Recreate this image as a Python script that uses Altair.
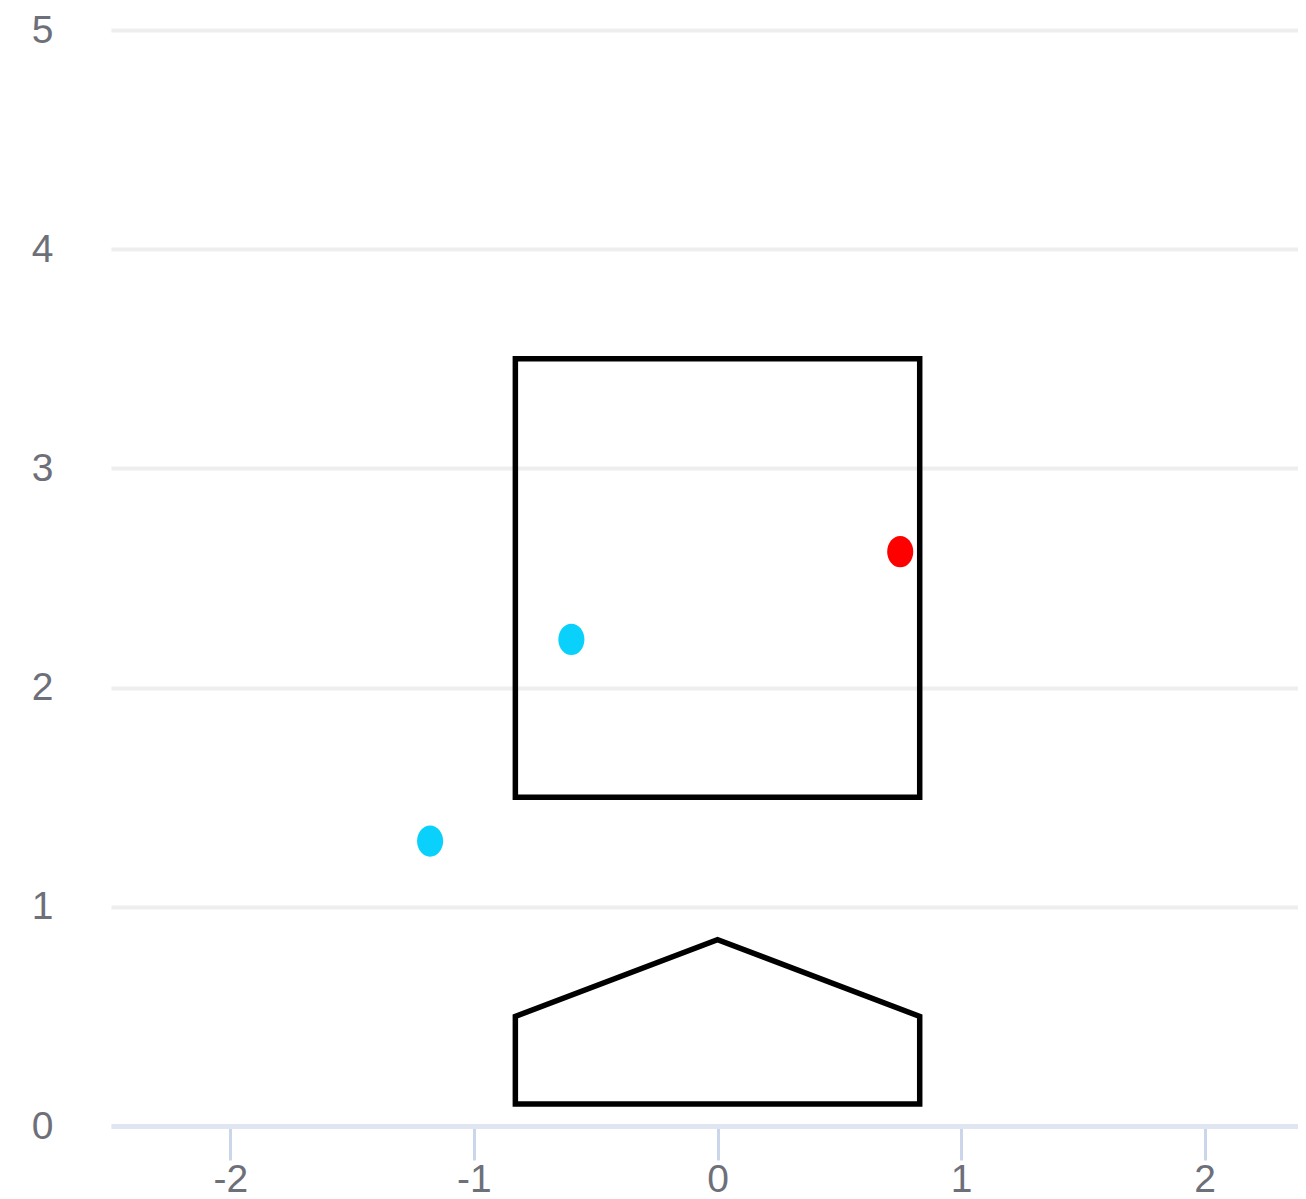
import altair as alt
import pandas as pd

# strike zone rectangle
zone_x = [-0.83]
zone_x2 = [0.83]
zone_y = [1.5]
zone_y2 = [3.5]

# home plate outline (closed)
plate_x = [-0.83, -0.83, 0.0, 0.83, 0.83, -0.83]
plate_y = [0.1, 0.5, 0.85, 0.5, 0.1, 0.1]

# pitches
pitch_x = [-1.18, -0.6, 0.75]
pitch_y = [1.30, 2.22, 2.62]
pitch_color = ["#0AD1FC", "#0AD1FC", "#FF0000"]

x_ticks = [-2, -1, 0, 1, 2]
y_ticks = [0, 1, 2, 3, 4, 5]

FONT = "Liberation Sans"
LABEL_COLOR = "#6E7079"

zone_df = pd.DataFrame({"x": zone_x, "x2": zone_x2, "y": zone_y, "y2": zone_y2})
plate_df = pd.DataFrame({"x": plate_x, "y": plate_y, "order": list(range(len(plate_x)))})
pitch_df = pd.DataFrame({"x": pitch_x, "y": pitch_y, "color": pitch_color})

xscale = alt.Scale(domain=[-2.49, 2.383], nice=False, zero=False)
yscale = alt.Scale(domain=[0, 5], nice=False, zero=False)

xaxis = alt.Axis(
    values=x_ticks, grid=False, title=None,
    domainColor="#E0E6F1", domainWidth=5,
    tickColor="#CCD6EB", tickWidth=3, tickSize=34,
    labelPadding=0, labelFont=FONT, labelFontSize=39, labelColor=LABEL_COLOR,
    labelExpr="replace(datum.label, '\u2212', '-')",
)
yaxis = alt.Axis(
    values=y_ticks, domain=False, ticks=False, tickSize=0, title=None,
    grid=True, gridColor="#EEEEEE", gridWidth=4,
    labelPadding=58, labelFont=FONT, labelFontSize=39, labelColor=LABEL_COLOR,
)

ellipse = "M0,-1.2A1,1.2 0 1,1 0,1.2A1,1.2 0 1,1 0,-1.2Z"

zone = alt.Chart(zone_df).mark_rect(filled=False, stroke="black", strokeWidth=5.5).encode(
    x=alt.X("x:Q", scale=xscale, axis=xaxis),
    x2="x2:Q",
    y=alt.Y("y:Q", scale=yscale, axis=yaxis),
    y2="y2:Q",
)

plate = alt.Chart(plate_df).mark_line(
    color="black", strokeWidth=5.5, strokeJoin="miter", strokeCap="square"
).encode(
    x=alt.X("x:Q", scale=xscale, axis=xaxis),
    y=alt.Y("y:Q", scale=yscale, axis=yaxis),
    order="order:Q",
)

pitches = alt.Chart(pitch_df).mark_point(
    shape=ellipse, size=680, filled=True, opacity=1, strokeWidth=0
).encode(
    x=alt.X("x:Q", scale=xscale, axis=xaxis),
    y=alt.Y("y:Q", scale=yscale, axis=yaxis),
    color=alt.Color("color:N", scale=None),
)

chart = alt.layer(zone, plate, pitches).properties(
    width=1187,
    height=1096,
    autosize=alt.AutoSizeParams(type="none"),
    padding={"left": 103, "top": 22, "right": 0, "bottom": 75},
).configure_view(stroke=None)

chart.save("out.html", embed_options={"renderer": "svg", "actions": False})
